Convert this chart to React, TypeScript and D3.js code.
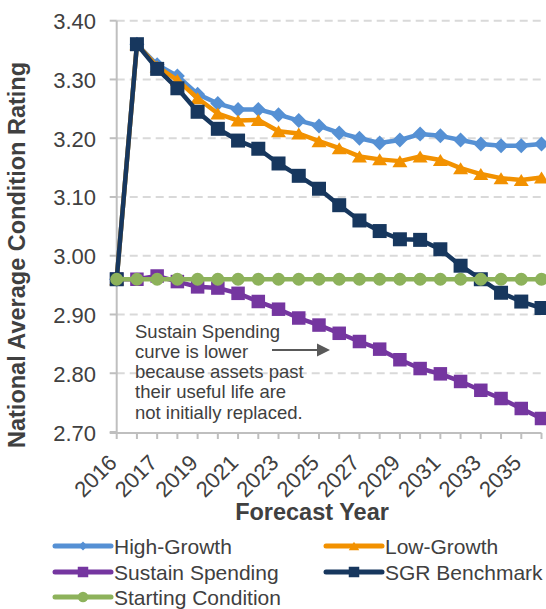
import React from "react";
import * as d3 from "d3";

const categories = ["2016","2016","2017","2018","2019","2020","2021","2022","2023","2024","2025","2026","2027","2028","2029","2030","2031","2032","2033","2034","2035","2036"];
const yTicks = [2.7, 2.8, 2.9, 3.0, 3.1, 3.2, 3.3, 3.4];

const highGrowth = [2.96, 3.36, 3.325, 3.306, 3.275, 3.259, 3.249, 3.249, 3.240, 3.230, 3.221, 3.209, 3.200, 3.192, 3.197, 3.207, 3.204, 3.197, 3.190, 3.187, 3.187, 3.190];
const lowGrowth = [2.96, 3.36, 3.322, 3.299, 3.268, 3.242, 3.230, 3.231, 3.212, 3.208, 3.195, 3.183, 3.169, 3.164, 3.161, 3.169, 3.163, 3.149, 3.139, 3.132, 3.129, 3.133];
const sustainSpending = [2.96, 2.96, 2.9655, 2.956, 2.947, 2.945, 2.936, 2.922, 2.909, 2.894, 2.882, 2.868, 2.854, 2.841, 2.823, 2.808, 2.799, 2.786, 2.771, 2.757, 2.740, 2.723];
const sgrBenchmark = [2.96, 3.36, 3.318, 3.285, 3.245, 3.216, 3.196, 3.182, 3.157, 3.136, 3.114, 3.086, 3.060, 3.042, 3.028, 3.027, 3.011, 2.983, 2.960, 2.937, 2.922, 2.911];
const startingCondition = [2.96, 2.96, 2.96, 2.96, 2.96, 2.96, 2.96, 2.96, 2.96, 2.96, 2.96, 2.96, 2.96, 2.96, 2.96, 2.96, 2.96, 2.96, 2.96, 2.96, 2.96, 2.96];

const seriesNames = ["High-Growth", "Low-Growth", "Sustain Spending", "SGR Benchmark", "Starting Condition"];
const annotationLines = ["Sustain Spending", "curve is lower", "because assets past", "their useful life are", "not initially replaced."];

const FONT = "'Liberation Sans', Arial, sans-serif";
const TEXT = "#404040";

type Marker = "diamond" | "triangle" | "square" | "circle";

function markerPath(type: Marker, x: number, y: number, s: number): string {
  const h = s / 2;
  if (type === "diamond") return `M${x},${y - h}L${x + h},${y}L${x},${y + h}L${x - h},${y}Z`;
  if (type === "triangle") {
    const th = s * 0.8;
    return `M${x - h},${y + th / 2}L${x + h},${y + th / 2}L${x},${y - th / 2}Z`;
  }
  if (type === "square") return `M${x - h},${y - h}h${s}v${s}h${-s}Z`;
  return `M${x - h},${y}a${h},${h} 0 1,0 ${s},0a${h},${h} 0 1,0 ${-s},0Z`;
}

export default function App() {
  const W = 546, H = 609;
  const x0 = 116.7, x1 = 541.5;
  const yTop = 20.7, yBot = 432;
  const idx = categories.map((_, i) => i);
  const x = d3.scalePoint<number>().domain(idx).range([x0, x1]);
  const y = d3.scaleLinear().domain([2.7, 3.4]).range([yBot, yTop]);
  const line = d3.line<number>().x((_, i) => x(i)!).y((d) => y(d));

  const series = [
    { name: seriesNames[0], data: highGrowth, color: "#5590D4", marker: "diamond" as Marker, size: 15 },
    { name: seriesNames[1], data: lowGrowth, color: "#F29100", marker: "triangle" as Marker, size: 15 },
    { name: seriesNames[2], data: sustainSpending, color: "#7536A0", marker: "square" as Marker, size: 13.5 },
    { name: seriesNames[3], data: sgrBenchmark, color: "#17375E", marker: "square" as Marker, size: 14 },
    { name: seriesNames[4], data: startingCondition, color: "#8DB25B", marker: "circle" as Marker, size: 13 },
  ];

  const legendPos = [
    { lx: 55, ly: 546 },
    { lx: 326, ly: 546 },
    { lx: 55, ly: 572 },
    { lx: 326, ly: 572 },
    { lx: 55, ly: 597 },
  ];

  return (
    <svg width={W} height={H} style={{ position: "absolute", left: 0, top: 0, background: "#fff" }} fontFamily={FONT}>
      {/* gridlines */}
      {yTicks.filter((t) => t > 2.75).map((t) => (
        <line key={"g" + t} x1={x0} x2={x1} y1={y(t)} y2={y(t)} stroke="#D9D9D9" strokeWidth={2} strokeDasharray="8,5" />
      ))}
      {/* y axis */}
      <line x1={x0} x2={x0} y1={yTop} y2={yBot + 2} stroke="#BFBFBF" strokeWidth={2} />
      {yTicks.map((t) => (
        <g key={"yt" + t}>
          <line x1={x0 - 7} x2={x0} y1={y(t)} y2={y(t)} stroke="#BFBFBF" strokeWidth={2} />
          <text x={96} y={y(t) + 8.5} textAnchor="end" fontSize={22} fill={TEXT}>{t.toFixed(2)}</text>
        </g>
      ))}
      {/* x axis */}
      <line x1={x0 - 7} x2={x1} y1={yBot + 1} y2={yBot + 1} stroke="#BFBFBF" strokeWidth={2} />
      {idx.map((i) => (
        <line key={"xt" + i} x1={x(i)} x2={x(i)} y1={yBot + 1} y2={yBot + 7} stroke="#BFBFBF" strokeWidth={2} />
      ))}
      {idx.filter((i) => i % 2 === 0).map((i) => (
        <text key={"xl" + i} transform={`translate(${x(i)! + 1.5},${yBot + 32}) rotate(-45)`} textAnchor="end" fontSize={22} fill={TEXT}>
          {categories[i]}
        </text>
      ))}
      {/* axis titles */}
      <text x={312} y={520} textAnchor="middle" fontSize={23.5} fontWeight="bold" fill={TEXT}>Forecast Year</text>
      <text transform={`translate(25,255) rotate(-90)`} textAnchor="middle" fontSize={23.5} fontWeight="bold" fill={TEXT}>
        National Average Condition Rating
      </text>
      {/* series */}
      {series.map((s) => (
        <g key={s.name}>
          <path d={line(s.data) || ""} fill="none" stroke={s.color} strokeWidth={4.5} strokeLinejoin="round" />
          {s.data.map((v, i) => (
            <path key={i} d={markerPath(s.marker, x(i)!, y(v), s.size)} fill={s.color} />
          ))}
        </g>
      ))}
      {/* annotation */}
      {annotationLines.map((t, i) => (
        <text key={"a" + i} x={135} y={337.7 + i * 20.2} fontSize={18.5} fill={TEXT}>{t}</text>
      ))}
      <line x1={272} x2={318} y1={350} y2={350} stroke="#595959" strokeWidth={2} />
      <path d="M317,343.5L330,350L317,356.5Z" fill="#595959" />
      {/* legend */}
      {series.map((s, i) => {
        const p = legendPos[i];
        const cx = p.lx + 28;
        return (
          <g key={"lg" + i}>
            <line x1={p.lx} x2={p.lx + 56} y1={p.ly} y2={p.ly} stroke={s.color} strokeWidth={5} strokeLinecap="round" />
            <path d={markerPath(s.marker, cx, p.ly, s.marker === "diamond" ? 9 : 10.5)} fill={s.color} />
            <text x={p.lx + 59} y={p.ly + 7.5} fontSize={21} fill={TEXT}>{s.name}</text>
          </g>
        );
      })}
    </svg>
  );
}
